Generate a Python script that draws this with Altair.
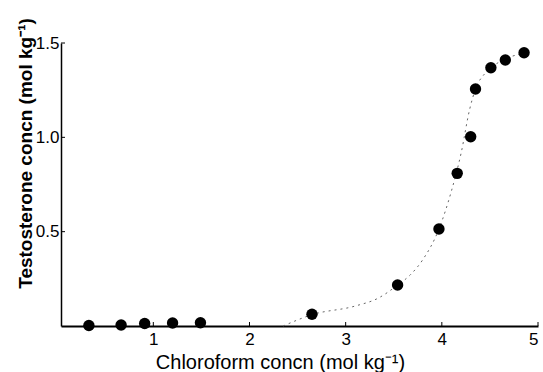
import altair as alt
import pandas as pd

# measured points
pt_x = [0.33, 0.665, 0.91, 1.20, 1.49, 2.65, 3.54, 3.97, 4.16, 4.30, 4.35, 4.51, 4.66, 4.855]
pt_y = [0.003, 0.005, 0.013, 0.016, 0.017, 0.062, 0.217, 0.514, 0.809, 1.003, 1.256, 1.369, 1.41, 1.448]

# fitted curve
curve_x = [2.35, 2.65, 3.1, 3.34, 3.54, 3.67, 3.80, 3.97, 4.10, 4.20, 4.29, 4.35, 4.45, 4.6, 4.85]
curve_y = [0.0, 0.06, 0.106, 0.148, 0.217, 0.27, 0.35, 0.514, 0.716, 0.915, 1.15, 1.256, 1.34, 1.40, 1.445]

x_ticks = [1, 2, 3, 4, 5]
y_ticks = [0.5, 1.0, 1.5]

W, H = 477, 283

pts = pd.DataFrame({"x": pt_x, "y": pt_y})
crv = pd.DataFrame({"x": curve_x, "y": curve_y})
xt = pd.DataFrame({"t": x_ticks})
yt = pd.DataFrame({"t": y_ticks})

xscale = alt.Scale(domain=[0.04, 5], nice=False, zero=False)
yscale = alt.Scale(domain=[0, 1.5], nice=False)

FONT = "Liberation Sans"

xaxis = alt.Axis(
    values=x_ticks, format="d", ticks=False, grid=False,
    domainColor="black", domainWidth=2,
    labelFont=FONT, labelFontSize=17, labelColor="black", labelPadding=5,
    title="Chloroform concn (mol kg⁻¹)", titleFont=FONT, titleFontSize=20,
    titleFontWeight="normal", titleColor="black",
    titleX=219, titleY=42, titleBaseline="alphabetic",
)

yaxis = alt.Axis(
    values=y_ticks, format=".1f", ticks=False, grid=False,
    domainColor="black", domainWidth=1.5,
    labelFont=FONT, labelFontSize=17, labelColor="black", labelPadding=2,
    title="Testosterone concn (mol kg⁻¹)", titleFont=FONT, titleFontSize=19,
    titleFontWeight="bold", titleColor="black",
    titleX=-30, titleY=110, titleBaseline="alphabetic",
)

curve = alt.Chart(crv).mark_line(
    color="#666666", strokeWidth=1, strokeDash=[2, 4], interpolate="monotone"
).encode(
    x=alt.X("x:Q", scale=xscale, axis=xaxis),
    y=alt.Y("y:Q", scale=yscale, axis=yaxis),
)

dots = alt.Chart(pts).mark_circle(color="black", opacity=1, size=130).encode(
    x=alt.X("x:Q", scale=xscale),
    y=alt.Y("y:Q", scale=yscale),
)

xticks = alt.Chart(xt).mark_rule(color="black", strokeWidth=1).encode(
    x=alt.X("t:Q", scale=xscale),
    y=alt.value(H),
    y2=alt.value(H - 4),
)

yticks = alt.Chart(yt).mark_rule(color="black", strokeWidth=1).encode(
    y=alt.Y("t:Q", scale=yscale),
    x=alt.value(0),
    x2=alt.value(4),
)

chart = alt.layer(curve, xticks, yticks, dots).properties(
    width=W, height=H,
    autosize=alt.AutoSizeParams(type="none"),
    padding={"left": 61, "top": 43, "right": 5, "bottom": 46},
    background="white",
).configure_view(stroke=None)

chart.save("out.html", embed_options={"renderer": "svg", "actions": False})
